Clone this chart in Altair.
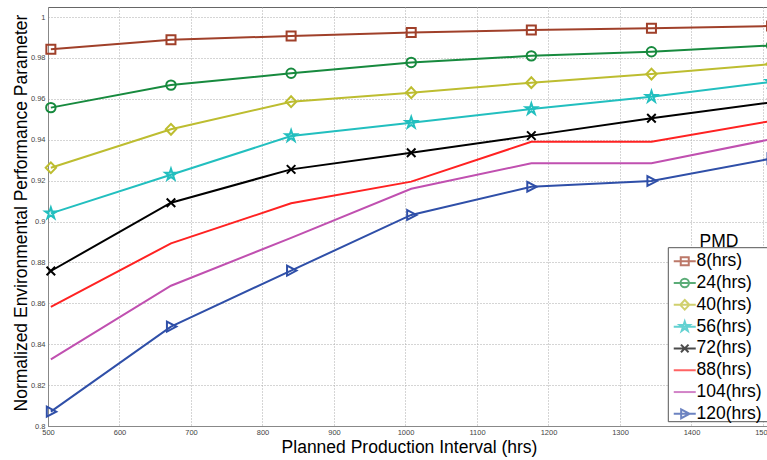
import altair as alt
import pandas as pd

# ---------------- data ----------------
x_hours = [504, 672, 840, 1008, 1176, 1344, 1512]
pmd_labels = ["8(hrs)", "24(hrs)", "40(hrs)", "56(hrs)", "72(hrs)", "88(hrs)", "104(hrs)", "120(hrs)"]
s8 = [0.9842, 0.9889, 0.9907, 0.9924, 0.9936, 0.9945, 0.9956]
s24 = [0.9557, 0.9667, 0.9725, 0.9778, 0.9810, 0.9830, 0.9861]
s40 = [0.9263, 0.9451, 0.9586, 0.9630, 0.9679, 0.9721, 0.9770]
s56 = [0.9040, 0.9229, 0.9418, 0.9483, 0.9550, 0.9610, 0.9683]
s72 = [0.8758, 0.9092, 0.9255, 0.9336, 0.9420, 0.9505, 0.9583]
s88 = [0.8583, 0.8893, 0.9089, 0.9195, 0.9390, 0.9390, 0.9492]
s104 = [0.8326, 0.8686, 0.8920, 0.9160, 0.9285, 0.9285, 0.9403]
s120 = [0.8070, 0.8486, 0.8760, 0.9032, 0.9170, 0.9198, 0.9308]
series = [s8, s24, s40, s56, s72, s88, s104, s120]

x_ticks = [500, 600, 700, 800, 900, 1000, 1100, 1200, 1300, 1400, 1500]
y_ticks = [0.8, 0.82, 0.84, 0.86, 0.88, 0.9, 0.92, 0.94, 0.96, 0.98, 1.0]

rows = []
for lab, vals in zip(pmd_labels, series):
    for xv, yv in zip(x_hours, vals):
        rows.append({"PMD": lab, "x": xv, "y": yv})
df = pd.DataFrame(rows)

# ---------------- styles ----------------
colors = ["#A0402A", "#178A3E", "#BDBD30", "#22BFBF", "#000000", "#FF2222", "#C050B0", "#2F4FA8"]

SQUARE = "M-1,-1L1,-1L1,1L-1,1Z"
CIRCLE = "M-1.05,0A1.05,1.05 0 1,0 1.05,0A1.05,1.05 0 1,0 -1.05,0Z"
DIAMOND = "M-1.15,0L0,-1.2L1.15,0L0,1.2Z"
STAR = ("M0,-1.3L0.292,-0.402L1.236,-0.402L0.472,0.154L0.764,1.052L0,0.496L-0.764,1.052"
        "L-0.472,0.154L-1.236,-0.402L-0.292,-0.402Z")
XMARK = "M-0.95,-0.95L0.95,0.95M-0.95,0.95L0.95,-0.95"
TRI = "M-0.9,-1.1L1.2,0L-0.9,1.1Z"
NONE = "M0,0"
LINE = "M-2.75,0L2.75,0"

marker_paths = [SQUARE, CIRCLE, DIAMOND, STAR, XMARK, NONE, NONE, TRI]
legend_paths = [LINE + (p if p != NONE else "") for p in marker_paths]
marker_labels = [l for l, p in zip(pmd_labels, marker_paths) if p != NONE]

FONT = "Liberation Sans"

x_enc = alt.X(
    "x:Q",
    scale=alt.Scale(domain=[500, 1505.6], nice=False, zero=False),
    axis=alt.Axis(
        values=x_ticks, format="d",
        title="Planned Production Interval (hrs)",
        titleFont=FONT, titleFontSize=17.5, titleFontWeight="normal", titleColor="black",
        titleX=361, titleY=26.7, titleAlign="center", titleBaseline="alphabetic",
        labelFont=FONT, labelFontSize=7.5, labelColor="#444", labelPadding=2,
        labelFlush=False, labelOverlap=False,
        ticks=False, tickSize=0,
        domainColor="#888",
        grid=True, gridColor="#aaa", gridDash=[1, 2], gridWidth=1,
    ),
)
y_enc = alt.Y(
    "y:Q",
    scale=alt.Scale(domain=[0.8, 1.0049], nice=False, zero=False),
    axis=alt.Axis(
        values=y_ticks, format="~g",
        title="Normalized Environmental Performance Parameter",
        titleFont=FONT, titleFontSize=17.5, titleFontWeight="normal", titleColor="black",
        titleX=-22, titleY=205.5, titleAngle=270, titleAlign="center", titleBaseline="alphabetic",
        labelFont=FONT, labelFontSize=7.5, labelColor="#444", labelPadding=3,
        labelFlush=False, labelOverlap=False,
        ticks=False, tickSize=0,
        domainColor="#888",
        grid=True, gridColor="#aaa", gridDash=[1, 2], gridWidth=1,
    ),
)

base = alt.Chart(df)

lines = base.mark_line(strokeWidth=2).encode(
    x=x_enc, y=y_enc,
    color=alt.Color("PMD:N", scale=alt.Scale(domain=pmd_labels, range=colors), legend=None),
)

points = base.transform_filter(
    alt.FieldOneOfPredicate(field="PMD", oneOf=marker_labels)
).mark_point(filled=False, size=81, strokeWidth=2, opacity=1).encode(
    x=x_enc, y=y_enc,
    color=alt.Color("PMD:N", scale=alt.Scale(domain=pmd_labels, range=colors), legend=None),
    shape=alt.Shape("PMD:N", scale=alt.Scale(domain=pmd_labels, range=marker_paths), legend=None),
)

leg = alt.Legend(
    title="PMD", orient="none", legendX=628, legendY=226,
    titleFont=FONT, titleFontSize=17.5, titleFontWeight="normal", titleColor="black",
    titleAnchor="middle", titlePadding=2,
    labelFont=FONT, labelFontSize=17.5, labelColor="black", labelLimit=300,
    symbolSize=64, symbolStrokeWidth=2, labelOffset=3, rowPadding=2.8, padding=0,
)

legend_layer = base.transform_filter("false").mark_point(filled=False, size=64, strokeWidth=2).encode(
    x=x_enc, y=y_enc,
    color=alt.Color("PMD:N", scale=alt.Scale(domain=pmd_labels, range=colors), legend=leg),
    shape=alt.Shape("PMD:N", scale=alt.Scale(domain=pmd_labels, range=legend_paths), legend=leg),
)

box = alt.Chart(pd.DataFrame({"k": [0]})).mark_rect(fill="white", stroke="#555", strokeWidth=1).encode(
    x=alt.value(620.3), x2=alt.value(770), y=alt.value(240.7), y2=alt.value(414.7)
)

chart = alt.layer(lines, points, legend_layer, box).resolve_scale(
    color="independent", shape="independent"
).properties(
    width=719, height=419,
    autosize=alt.AutoSizeParams(type="none"),
    padding={"left": 48, "top": 7, "right": 0, "bottom": 34},
).configure(font=FONT).configure_view(stroke="#666", strokeWidth=1)

chart.save("out.html", embed_options={"renderer": "svg", "actions": False})
